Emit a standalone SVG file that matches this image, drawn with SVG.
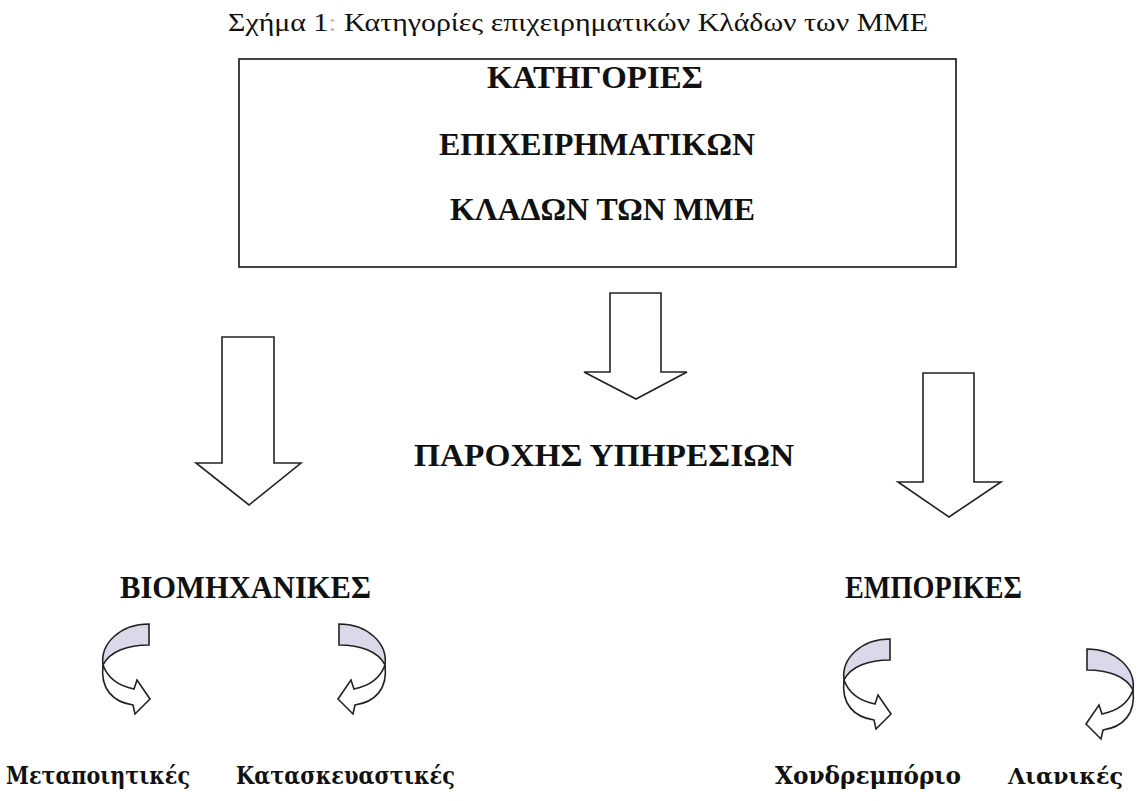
<svg xmlns="http://www.w3.org/2000/svg" width="1137" height="801" viewBox="0 0 1137 801">
<style>
.title{font-family:"Liberation Serif","Times New Roman",serif;font-size:25px;fill:#111}
.head{font-family:"Liberation Serif","Times New Roman",serif;font-size:31px;font-weight:bold;fill:#111}
.lbl{font-family:"DejaVu Serif","Liberation Serif",serif;font-size:25px;font-weight:bold;fill:#111}
.box{fill:#fff;stroke:#222;stroke-width:1.7}
.blk{fill:#fff;stroke:#222;stroke-width:1.6;stroke-linejoin:miter}
.back{fill:#d9d9ea;stroke:#222;stroke-width:1.6}
.front{fill:#fff;stroke:#222;stroke-width:1.6}
</style>
<defs>
<g id="curveR">
<path class="back" d="M149,624 L149,645 C128,645 110,651 103,665 C100,643 121,624 149,624 Z"/>
<path class="front" d="M103,665 C108,679 119,686 134,689 L137,680 L150,699 L135,714 L133,705 C113,702 100,689 103,665 Z"/>
</g>
</defs>
<rect width="1137" height="801" fill="#fff"/>
<text class="title" x="228" y="31" textLength="700" lengthAdjust="spacingAndGlyphs">Σχήμα 1<tspan fill="#bbb">:</tspan> Κατηγορίες επιχειρηματικών Κλάδων των ΜΜΕ</text>

<g id="node-root">
<rect class="box" x="239" y="59" width="717" height="208"/>
<text class="head" x="487" y="88" textLength="216" lengthAdjust="spacingAndGlyphs">ΚΑΤΗΓΟΡΙΕΣ</text>
<text class="head" x="439" y="155" textLength="316" lengthAdjust="spacingAndGlyphs">ΕΠΙΧΕΙΡΗΜΑΤΙΚΩΝ</text>
<text class="head" x="450" y="220" textLength="305" lengthAdjust="spacingAndGlyphs">ΚΛΑΔΩΝ ΤΩΝ ΜΜΕ</text>
</g>

<g id="connectors">
<path class="blk" d="M222,337 L274,337 L274,463 L301,463 L249,505 L196,463 L222,463 Z"/>
<path class="blk" d="M610,293 L661,293 L661,372 L687,372 L636,399 L584,372 L610,372 Z"/>
<path class="blk" d="M923,373 L974,373 L974,482 L1001,482 L949,517 L898,482 L923,482 Z"/>
<use href="#curveR"/>
<use href="#curveR" transform="translate(488,0) scale(-1,1)"/>
<use href="#curveR" transform="translate(741,15)"/>
<use href="#curveR" transform="translate(1236,25) scale(-1,1)"/>
</g>

<g id="node-services">
<text class="head" x="414" y="466" textLength="380" lengthAdjust="spacingAndGlyphs">ΠΑΡΟΧΗΣ ΥΠΗΡΕΣΙΩΝ</text>
</g>
<g id="node-industrial">
<text class="head" x="120" y="598" textLength="251" lengthAdjust="spacingAndGlyphs">ΒΙΟΜΗΧΑΝΙΚΕΣ</text>
</g>
<g id="node-commercial">
<text class="head" x="845" y="598" textLength="177" lengthAdjust="spacingAndGlyphs">ΕΜΠΟΡΙΚΕΣ</text>
</g>
<g id="node-manufacturing">
<text class="lbl" x="6" y="784" textLength="184" lengthAdjust="spacingAndGlyphs">Μεταποιητικές</text>
</g>
<g id="node-construction">
<text class="lbl" x="236" y="784" textLength="219" lengthAdjust="spacingAndGlyphs">Κατασκευαστικές</text>
</g>
<g id="node-wholesale">
<text class="lbl" x="775" y="784" textLength="186" lengthAdjust="spacingAndGlyphs">Χονδρεμπόριο</text>
</g>
<g id="node-retail">
<text class="lbl" x="1008" y="784" style="font-size:22px" textLength="115" lengthAdjust="spacingAndGlyphs">Λιανικές</text>
</g>
</svg>
